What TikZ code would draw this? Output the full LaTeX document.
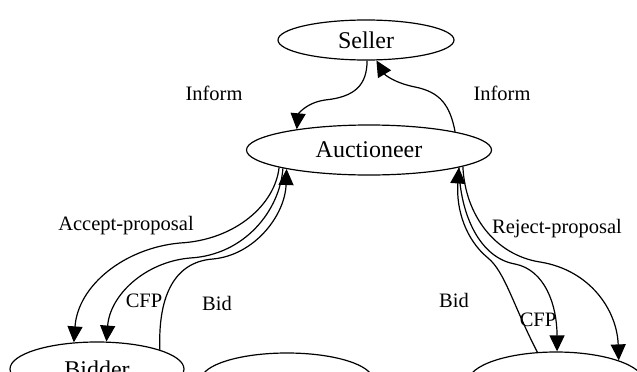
\documentclass[tikz,border=0pt]{standalone}
\usepackage{fontspec}
\setmainfont{Liberation Serif}
\usetikzlibrary{shapes.geometric,arrows.meta}
\begin{document}
\begin{tikzpicture}[x=1pt,y=-1pt,
  ell/.style={ellipse, draw, line width=1.2pt, inner sep=0pt, font=\fontsize{24}{28}\selectfont},
  edge/.style={line width=1.2pt, -{Triangle[length=16pt,width=15pt]}},
  lab/.style={anchor=base, inner sep=0pt, font=\fontsize{20.5}{24}\selectfont}]
\useasboundingbox (0,0) rectangle (637,372);
\clip (0,0) rectangle (637,372);
% nodes
\node[ell, minimum width=176pt, minimum height=40pt] (seller) at (366,40) {Seller};
\node[ell, minimum width=245pt, minimum height=50pt] (auct) at (369,150) {Auctioneer};
\node[ell, minimum width=174pt, minimum height=54pt] (bidder) at (97,369) {Bidder};
\node[ell, minimum width=172pt, minimum height=54pt] (mid) at (287,380) {};
\node[ell, minimum width=176pt, minimum height=60pt] (right) at (556,382) {};
% Inform edges
\draw[edge] (seller.-87) .. controls (367,85) and (355,97) .. (325,100)
  .. controls (305,103) and (298,115) .. (auct.164);
\draw[edge] (auct.12.5) .. controls (450,105) and (440,92) .. (415,87)
  .. controls (395,83) and (385,75) .. (seller.-63.3);
% left group
\draw[edge] (auct.191.7) .. controls (275,205) and (235,240) .. (180,243)
  .. controls (125,248) and (78,285) .. (bidder.131.5);
\draw[edge] (auct.192.8) .. controls (280,210) and (245,255) .. (190,258)
  .. controls (145,262) and (110,295) .. (bidder.71.5);
\draw[edge] (bidder.17.6) .. controls (158,300) and (172,262) .. (213,259)
  .. controls (255,255) and (285,215) .. (auct.193.9);
% right group
\draw[edge] (right.122.9) .. controls (513,305) and (505,272) .. (488,258)
  .. controls (466,240) and (456,210) .. (auct.-11.7);
\draw[edge] (auct.-11.2) .. controls (460,215) and (480,258) .. (515,264)
  .. controls (545,270) and (557,305) .. (right.88);
\draw[edge] (auct.-10.4) .. controls (465,215) and (495,255) .. (540,262)
  .. controls (590,270) and (617,310) .. (right.19);
% labels
\node[lab] (l1) at (214,100) {Inform};
\node[lab] (l2) at (502,100) {Inform};
\node[lab] (l3) at (126,230) {Accept-proposal};
\node[lab] (l4) at (557,233) {Reject-proposal};
\node[lab] (l5) at (144,307) {CFP};
\node[lab] (l6) at (217,310) {Bid};
\node[lab] (l7) at (454,307) {Bid};
\node[lab] (l8) at (538,326) {CFP};
\end{tikzpicture}
\end{document}
